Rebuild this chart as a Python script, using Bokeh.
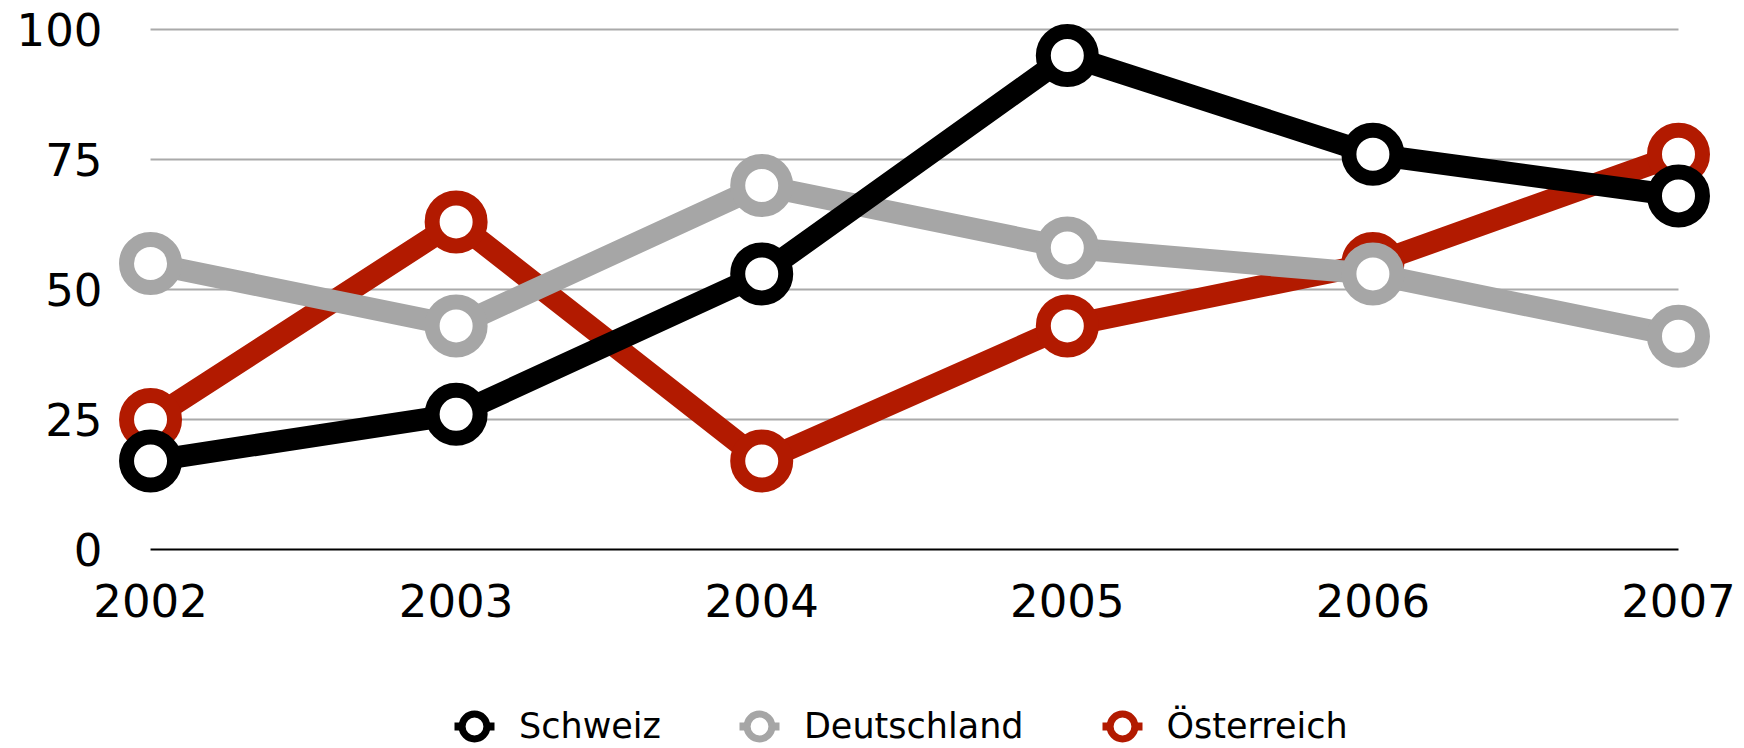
from bokeh.plotting import figure
from bokeh.models import Range1d, FixedTicker, Legend, LegendItem
from bokeh.layouts import column
from bokeh.embed import file_html
from bokeh.resources import INLINE

years = [2002, 2003, 2004, 2005, 2006, 2007]
schweiz = [17, 26, 53, 95, 76, 68]
deutschland = [55, 43, 70, 58, 53, 41]
oesterreich = [25, 63, 17, 43, 55, 76]
y_ticks = [0, 25, 50, 75, 100]
grid_ticks = [25, 50, 75, 100]

series = [
    ("Österreich", oesterreich, "#b21a00"),
    ("Deutschland", deutschland, "#a6a6a6"),
    ("Schweiz", schweiz, "#000000"),
]

FONT = "DejaVu Sans"

p = figure(width=1744, height=640, output_backend="svg", toolbar_location=None,
           x_range=Range1d(2001.869, 2007.144), y_range=Range1d(-1.154, 102.88),
           min_border_left=110, min_border_right=22, min_border_top=14,
           min_border_bottom=85, outline_line_color=None)
p.xgrid.visible = False
p.ygrid.visible = False

# grid lines spanning first to last year
p.segment(x0=[years[0]] * len(grid_ticks), x1=[years[-1]] * len(grid_ticks),
          y0=grid_ticks, y1=grid_ticks, line_color="#aaaaaa", line_width=2)
p.segment(x0=[years[0]], x1=[years[-1]], y0=[y_ticks[0]], y1=[y_ticks[0]],
          line_color="#000000", line_width=2)

for name, vals, color in series:
    p.line(years, vals, line_color=color, line_width=22, line_join="round")
    p.scatter(years, vals, size=48, marker="circle", fill_color="white",
              line_color=color, line_width=15)

for ax in (p.xaxis[0], p.yaxis[0]):
    ax.axis_line_color = None
    ax.major_tick_line_color = None
    ax.minor_tick_line_color = None
    ax.major_label_text_font = FONT
    ax.major_label_text_font_size = "45px"
    ax.major_label_text_color = "#000000"

p.xaxis[0].ticker = FixedTicker(ticks=years)
p.yaxis[0].ticker = FixedTicker(ticks=y_ticks)
p.xaxis[0].major_label_standoff = 22
p.yaxis[0].major_label_standoff = 2

# legend in a separate strip below the chart
lf = figure(width=1744, height=108, output_backend="svg", toolbar_location=None,
            x_axis_location=None, y_axis_location=None, min_border=0,
            outline_line_color=None)
lf.xgrid.visible = False
lf.ygrid.visible = False

legend_map = {}
for name, vals, color in series:
    lr = lf.line(years, vals, line_color=color, line_width=8, line_dash="0 11 40 100",
                 visible=False)
    sr = lf.scatter(years, vals, marker="circle", fill_color="white",
                    line_color=color, line_width=7, visible=False)
    legend_map[name] = [lr, sr]

order = ["Schweiz", "Deutschland", "Österreich"]
legend = Legend(items=[LegendItem(label=n, renderers=legend_map[n]) for n in order],
                orientation="horizontal", location=(333, -9),
                label_text_font=FONT, label_text_font_size="35px",
                label_text_color="#000000",
                glyph_width=62, glyph_height=62, label_standoff=14, spacing=67,
                border_line_color=None, background_fill_alpha=0,
                padding=0, margin=0, inactive_fill_alpha=0)
lf.add_layout(legend, "center")

open("out.html", "w").write(file_html(column(p, lf), INLINE))
